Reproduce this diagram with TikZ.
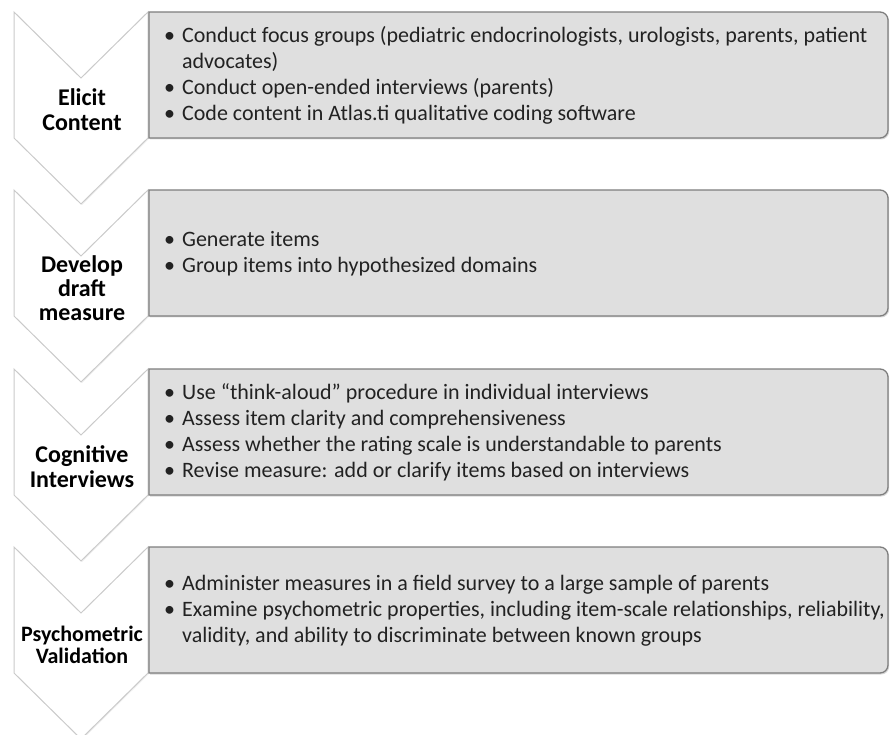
\documentclass[tikz,border=0pt]{standalone}
\usepackage{fontspec}
\setmainfont{Carlito}
\usetikzlibrary{shadows}

\definecolor{boxgray}{HTML}{DFDFDF}
\definecolor{framegray}{HTML}{7E7E7E}
\definecolor{chevgray}{HTML}{CACACA}
\definecolor{textgray}{HTML}{222222}

\tikzstyle{chev}=[draw=chevgray, fill=white, line width=1pt, drop shadow={opacity=0.12, shadow xshift=1pt, shadow yshift=-1pt}]
\tikzstyle{frame}=[draw=framegray, fill=boxgray, line width=1.3pt, drop shadow={opacity=0.3, shadow xshift=1.2pt, shadow yshift=-1.5pt}]
\tikzstyle{stagename}=[align=center, inner sep=0pt, text=black]
\tikzstyle{items}=[anchor=west, align=left, inner sep=0pt, text=textgray, font=\fontsize{22}{26}\selectfont]

% #1 name, #2 top, #3/#4 label font size/skip, #5 label, #6 bullet rows
\newcommand{\stage}[6]{%
  \draw[chev] (14,#2) -- (81,#2-66) -- (148,#2) -- (148,#2-126) -- (81,#2-192) -- (14,#2-126) -- cycle;
  \draw[frame] (149,#2-126) -- (149,#2) -- (880,#2) arc[start angle=90,end angle=0,radius=8] -- (888,#2-118) arc[start angle=0,end angle=-90,radius=8] -- cycle;
  \node[stagename, font=\bfseries\fontsize{#3}{#4}\selectfont] (#1) at (82,#2-98) {#5};
  \node[items] (#1-txt) at (164,#2-64) {\begin{tabular}{@{}l@{\hspace{7pt}}l@{}}#6\end{tabular}};
}
\newcommand{\bul}{\textbullet}

\begin{document}
\begin{tikzpicture}[x=1pt,y=1pt]
    \useasboundingbox (0,0) rectangle (890,734);
    % four stages, top to bottom
    \stage{elicit}{722}{24}{25}{Elicit\\Content}{%
        \bul & Conduct focus groups (pediatric endocrinologists, urologists, parents, patient\\
             & advocates)\\
        \bul & Conduct open-ended interviews (parents)\\
        \bul & Code content in Atlas.ti qualitative coding software}
    \stage{develop}{544}{24}{24}{Develop\\draft\\measure}{%
        \bul & Generate items\\
        \bul & Group items into hypothesized domains}
    \stage{cognitive}{365}{24}{25}{Cognitive\\Interviews}{%
        \bul & Use “think-aloud” procedure in individual interviews\\
        \bul & Assess item clarity and comprehensiveness\\
        \bul & Assess whether the rating scale is understandable to parents\\
        \bul & Revise measure: add or clarify items based on interviews}
    \stage{psycho}{187}{22}{22}{Psychometric\\Validation}{%
        \bul & Administer measures in a field survey to a large sample of parents\\
        \bul & Examine psychometric properties, including item-scale relationships, reliability,\\
             & validity, and ability to discriminate between known groups}
\end{tikzpicture}
\end{document}
